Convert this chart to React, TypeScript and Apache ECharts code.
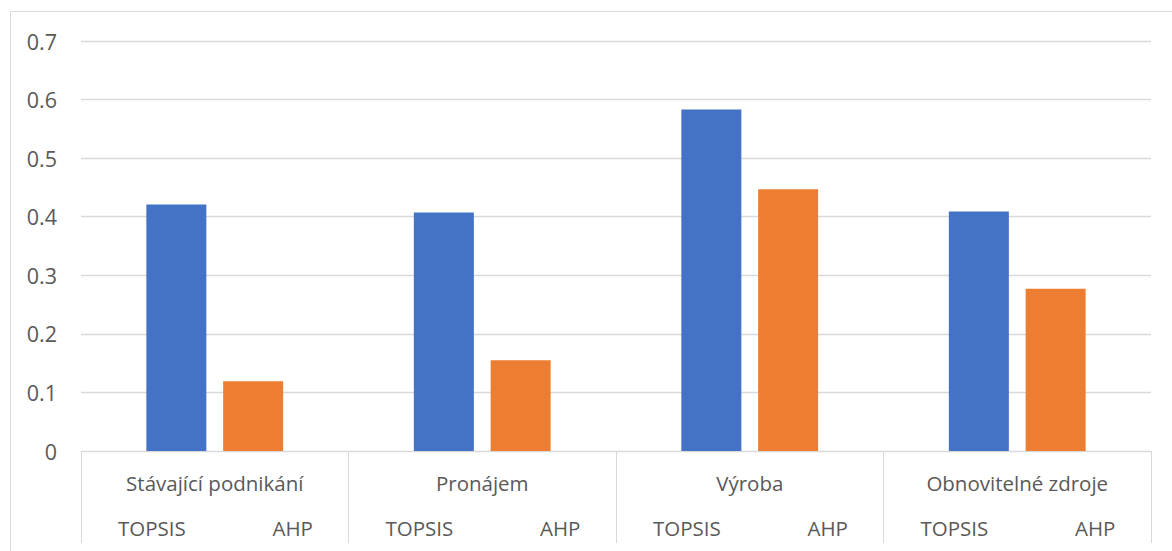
import React, { useEffect, useRef } from "react";
import * as echarts from "echarts";

const groups = ["Stávající podnikání", "Pronájem", "Výroba", "Obnovitelné zdroje"];
const methods = ["TOPSIS", "AHP"];
const topsisValues = [0.421, 0.407, 0.583, 0.409];
const ahpValues = [0.119, 0.155, 0.447, 0.277];
const yTicks = { min: 0, max: 0.7, interval: 0.1 };

const FONT = "'Open Sans', 'Noto Sans', sans-serif";
const TEXT = "#595959";
const LINE = "#d9d9d9";

export default function App() {
  const ref = useRef<HTMLDivElement>(null);
  useEffect(() => {
    if (!ref.current) return;
    const chart = echarts.init(ref.current, undefined, { renderer: "svg" });
    const subLabels: string[] = [];
    groups.forEach(() => methods.forEach((m) => subLabels.push(m)));
    const subStyle = { color: TEXT, fontSize: 20.5, fontFamily: FONT };
    chart.setOption({
      animation: false,
      backgroundColor: "#ffffff",
      textStyle: { fontFamily: FONT },
      graphic: [
        {
          type: "rect",
          shape: { x: 10.5, y: 11.5, width: 1200, height: 600 },
          style: { fill: "none", stroke: LINE, lineWidth: 1 },
          silent: true,
        },
      ],
      grid: { left: 81, right: 21, top: 41, bottom: 100, containLabel: false },
      xAxis: [
        {
          type: "category",
          data: groups,
          position: "bottom",
          axisLine: { show: true, lineStyle: { color: LINE, width: 1 } },
          axisTick: { show: true, length: 92, lineStyle: { color: LINE, width: 1 } },
          axisLabel: { color: TEXT, fontSize: 20.5, fontFamily: FONT, margin: 21 },
          splitLine: { show: false },
        },
        {
          type: "category",
          data: subLabels,
          position: "bottom",
          axisLine: { show: false },
          axisTick: { show: false },
          axisLabel: {
            color: TEXT,
            fontSize: 20.5,
            fontFamily: FONT,
            margin: 66,
            interval: 0,
            formatter: (v: string) => (v === "AHP" ? `{a|${v}}` : `{t|${v}}`),
            rich: {
              a: { ...subStyle, padding: [0, 0, 0, 22] },
              t: { ...subStyle, padding: [0, 0, 0, 8] },
            },
          },
          splitLine: { show: false },
        },
      ],
      yAxis: {
        type: "value",
        min: yTicks.min,
        max: yTicks.max,
        interval: yTicks.interval,
        axisLine: { show: false },
        axisTick: { show: false },
        axisLabel: { color: TEXT, fontSize: 21.5, fontFamily: FONT, margin: 24 },
        splitLine: { lineStyle: { color: LINE, width: 1.3 } },
      },
      series: [
        {
          name: "TOPSIS",
          type: "bar",
          xAxisIndex: 0,
          data: topsisValues,
          barWidth: 60,
          barGap: "28%",
          itemStyle: { color: "#4472C4" },
        },
        {
          name: "AHP",
          type: "bar",
          xAxisIndex: 0,
          data: ahpValues,
          barWidth: 60,
          barGap: "28%",
          itemStyle: { color: "#ED7D31" },
        },
      ],
    });
    return () => chart.dispose();
  }, []);
  return (
    <div
      ref={ref}
      style={{ position: "fixed", left: 0, top: 0, width: 1172, height: 551 }}
    />
  );
}
